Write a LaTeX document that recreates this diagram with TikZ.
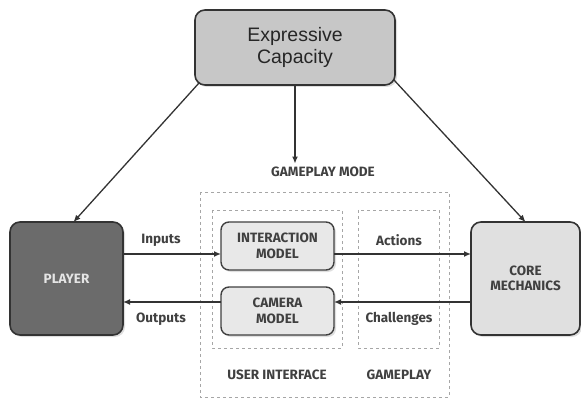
\documentclass[tikz,border=0pt]{standalone}
\usepackage{fontspec}
\setmainfont{Fira Sans}
\newfontfamily\capfont{Liberation Sans}
\usetikzlibrary{arrows.meta,shadows}

\tikzset{
  shade box/.style={drop shadow={shadow xshift=2pt,shadow yshift=-2pt,opacity=0.25}},
  bigbox/.style={draw=black!80,line width=1.6pt,rounded corners=10pt,inner sep=0pt,outer sep=0pt,shade box},
  modelbox/.style={draw=black!75,fill=black!9,line width=1.4pt,rounded corners=8pt,inner sep=0pt,outer sep=0pt,
    minimum width=113pt,minimum height=48pt,align=center,text=black!75,font=\bfseries\fontsize{13.5}{15.5}\selectfont,shade box},
  dashbox/.style={draw=black!35,dashed,line width=0.8pt},
  flow/.style={draw=black!80,line width=1.3pt,-{Latex[length=7pt,width=6pt]}},
  lbl/.style={text=black!75,font=\bfseries\fontsize{13.5}{15.5}\selectfont}
}

\begin{document}
\begin{tikzpicture}[x=1pt,y=-1pt]
  \useasboundingbox (0,0) rectangle (581,398);

  % Dashed frames: gameplay mode, user interface, gameplay
  \draw[dashbox] (200,192) rectangle (449,397);
  \draw[dashbox] (212,210) rectangle (342,348);
  \draw[dashbox] (358,210) rectangle (439,348);

  % Expressive capacity
  \node[bigbox,fill=black!22,minimum width=200pt,minimum height=75pt,align=center,
    font=\capfont\fontsize{19.5}{22.5}\selectfont,text=black!85] (express) at (295,47.5) {Expressive\\Capacity};

  % Player and core mechanics
  \node[bigbox,fill=black!58,minimum width=113pt,minimum height=113pt,
    text=black!10,font=\bfseries\fontsize{13.5}{15.5}\selectfont] (player) at (66.5,278.5) {PLAYER};
  \node[bigbox,fill=black!12,minimum width=109pt,minimum height=113pt,align=center,
    text=black!75,font=\bfseries\fontsize{13.5}{15.5}\selectfont] (core) at (525.5,278.5) {CORE\\MECHANICS};

  % Interaction and camera models
  \node[modelbox] (interact) at (277.5,246) {INTERACTION\\MODEL};
  \node[modelbox] (camera) at (277.5,311) {CAMERA\\MODEL};

  % Texts
  \node[lbl] (mode) at (323,172) {GAMEPLAY MODE};
  \node[lbl] (ui) at (277,375) {USER INTERFACE};
  \node[lbl] (gp) at (399,375) {GAMEPLAY};
  \node[lbl] (inputs) at (161,240) {Inputs};
  \node[lbl] (outputs) at (161,319) {Outputs};
  \node[lbl] (actions) at (399,240) {Actions};
  \node[lbl] (challenges) at (399,319) {Challenges};

  % Arrow ends
  \coordinate (inpt) at ([yshift=-8pt]interact.west);
  \coordinate (outpt) at ([yshift=9pt]camera.west);
  \coordinate (actpt) at ([yshift=-8pt]interact.east);
  \coordinate (chpt) at ([yshift=9pt]camera.east);

  % Drawing arrows
  \draw[flow] (player.east |- inpt) -- (inpt);
  \draw[flow] (outpt) -- (player.east |- outpt);
  \draw[flow] (actpt) -- (core.west |- actpt);
  \draw[flow] (core.west |- chpt) -- (chpt);
  \draw[flow] (express.south) -- (express.south |- mode.north);
  \draw[flow] ([xshift=4pt,yshift=2pt]express.south west) -- ([xshift=7pt]player.north);
  \draw[flow] ([xshift=-1pt,yshift=5pt]express.south east) -- (core.north);
\end{tikzpicture}
\end{document}
